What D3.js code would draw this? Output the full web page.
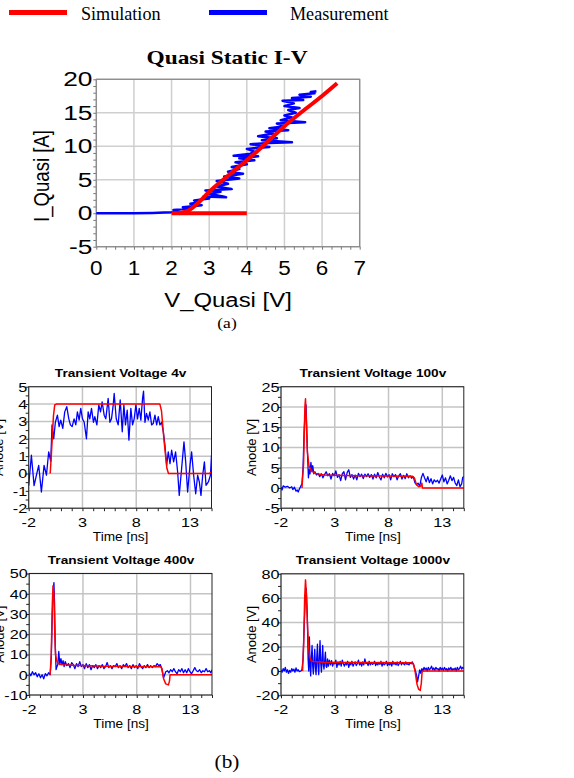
<!DOCTYPE html>
<html>
<head>
<meta charset="utf-8">
<script src="https://cdn.jsdelivr.net/npm/d3@7"></script>
<style>
body{margin:0;background:#fff;}
svg{display:block;}
</style>
</head>
<body>
<svg id="fig" width="574" height="778"></svg>
<script>
// ---------- data ----------
var legendNames = ["Simulation", "Measurement"];
var simColor = "#ff0000", measColor = "#0000ff";

// (a) quasi static I-V
var ivXTicks = [0, 1, 2, 3, 4, 5, 6, 7];
var ivYTicks = [-5, 0, 5, 10, 15, 20];
var ivSimFlat = [[2, 0], [4, 0]];
var ivSim = [[2.2, 0], [2.45, 0.4], [2.7, 1.5], [3, 3.2], [3.5, 5.6], [4, 7.9], [4.5, 10.4], [5, 13],
  [5.5, 15.3], [6, 17.5], [6.4, 19.4]];
var ivMeas = [[0, 0], [1.0, 0], [1.5, 0.05], [1.8, 0.1], [2.0, 0.15], [2.2, 0.3], [2.05, 0.5], [2.55, 0.7],
  [2.3, 0.9], [2.8, 1.2], [2.5, 1.4], [2.7, 1.6], [2.6, 1.9], [3.0, 2.2], [2.85, 2.5], [3.45, 2.4], [3.0, 2.9],
  [3.3, 3.2], [2.9, 3.4], [3.6, 3.6], [3.2, 4.0], [3.5, 4.4], [3.2, 4.8], [3.8, 5.2], [3.4, 5.5], [3.9, 5.9],
  [3.5, 6.2], [3.8, 6.6], [3.6, 6.9], [4.0, 7.3], [3.7, 7.6], [4.2, 7.9], [3.8, 8.2], [4.3, 8.5], [3.65, 8.6],
  [4.1, 8.9], [4.2, 9.2], [4.0, 9.6], [4.6, 9.9], [4.1, 10.3], [4.6, 10.5], [5.2, 10.6], [4.4, 10.9], [4.8, 11.2],
  [4.3, 11.5], [4.7, 11.9], [4.5, 12.2], [5.1, 12.4], [4.6, 12.7], [5.0, 13.0], [4.8, 13.4], [5.55, 13.6],
  [4.9, 13.9], [5.2, 14.3], [5.0, 14.6], [5.3, 15.0], [5.1, 15.4], [5.4, 15.7], [5.0, 16.0], [5.25, 16.4],
  [4.95, 16.8], [5.5, 16.9], [5.2, 17.2], [5.7, 17.4], [5.4, 17.7], [5.8, 17.9], [5.7, 18.1], [5.85, 18.2]];

// (b) transient voltages
var tTicks = [-2, 3, 8, 13];
var panelTitles = ["Transient Voltage 4v", "Transient Voltage 100v", "Transient Voltage 400v", "Transient Voltage 1000v"];
var y4v = [-2, -1, 0, 1, 2, 3, 4, 5];
var y100v = [-5, 0, 5, 10, 15, 20, 25];
var y400v = [-10, 0, 10, 20, 30, 40, 50];
var y1000v = [-20, 0, 20, 40, 60, 80];

var sim4v = [[0, 0], [0.1, 1], [0.3, 3.3], [0.42, 3.95], [0.6, 4], [10.2, 4], [10.35, 3.6], [10.6, 1.8],
  [10.85, 0.3], [11, 0], [14.8, 0], [15, 0.1]];
var meas4v = [[-2, -0.7], [-1.75, 1.05], [-1.5, -0.7], [-1.28, -0.1], [-1.07, 0.47], [-0.82, -1.07], [-0.57, 0.47],
  [-0.35, -0.1], [-0.14, 1.25], [0.05, 0.7], [0.17, 2.8], [0.33, 2.0], [0.48, 2.95], [0.67, 3.36], [0.83, 2.7],
  [0.98, 3.07], [1.17, 2.6], [1.35, 3.55], [1.54, 3.85], [1.73, 3.15], [1.88, 2.8], [2.04, 2.7], [2.22, 3.15],
  [2.38, 2.8], [2.53, 3.55], [2.69, 3.07], [2.84, 3.75], [3.0, 3.15], [3.16, 2.95], [3.37, 2.0], [3.53, 3.55],
  [3.68, 3.15], [3.84, 3.75], [4.02, 2.95], [4.15, 3.27], [4.34, 2.8], [4.52, 3.95], [4.68, 3.55], [4.83, 4.13],
  [5.02, 3.36], [5.17, 3.15], [5.39, 4.33], [5.55, 2.95], [5.70, 3.15], [5.86, 3.95], [5.95, 4.61], [6.14, 3.15],
  [6.32, 2.8], [6.51, 4.24], [6.70, 2.4], [6.85, 3.95], [7.0, 2.8], [7.16, 3.65], [7.32, 1.92], [7.5, 3.75],
  [7.66, 2.8], [7.81, 3.15], [7.97, 3.95], [8.12, 3.15], [8.28, 3.75], [8.43, 3.07], [8.59, 4.33], [8.68, 4.75],
  [8.81, 2.95], [8.96, 3.46], [9.12, 3.07], [9.27, 3.55], [9.43, 2.8], [9.58, 2.88], [9.74, 3.36], [9.9, 2.8],
  [10.05, 3.27], [10.2, 2.8], [10.36, 2.95], [10.52, 2.4], [10.67, 1.63], [10.83, 0.47], [10.98, 1.25],
  [11.14, 0.57], [11.29, 1.34], [11.48, 0.67], [11.66, 1.25], [11.85, 0.1], [12.0, -1.26], [12.22, 0.28],
  [12.44, 1.82], [12.6, 0.67], [12.78, -1.07], [13.0, 0.47], [13.15, 1.25], [13.34, -0.1], [13.53, -1.17],
  [13.71, -0.1], [13.87, -0.49], [14.02, -1.26], [14.18, -0.1], [14.34, 0.67], [14.49, -0.68], [14.71, -0.49],
  [14.9, -0.1], [15.0, 1.05]];

var sim100v = [[-0.05, 0], [0.1, 6], [0.22, 20], [0.28, 22], [0.35, 17], [0.45, 9], [0.6, 5.5], [0.8, 4.3],
  [1.2, 3.6], [2, 3.2], [5, 3], [10.2, 2.9], [10.4, 2.5], [10.6, 0.8], [10.8, 0.3], [11.0, 0.5], [11.1, 1.2],
  [11.15, 0], [15, 0]];
var meas100v = [[-2, 0.2], [-1.9, -0.5], [-1.8, 0.5], [-1.6, 0.2], [-1.4, 0.4], [-1.2, 0.0], [-1.0, 0.3],
  [-0.9, -0.4], [-0.75, 0.2], [-0.6, -0.8], [-0.5, -0.5], [-0.4, -1.0], [-0.3, -0.3], [-0.15, 0.5], [-0.05, 1.0],
  [0.05, 5], [0.15, 14], [0.25, 19], [0.33, 20.5], [0.4, 14], [0.47, 8], [0.55, 2.5], [0.62, 4.5], [0.7, 3.5],
  [0.78, 6.3], [0.88, 4.0], [0.95, 5.5], [1.05, 3.5], [1.15, 4.0], [1.3, 3.2], [1.45, 3.6], [1.6, 2.8],
  [1.75, 3.5], [1.9, 2.5], [2.05, 3.3], [2.2, 4.0], [2.35, 3.0], [2.5, 3.5], [2.65, 2.2], [2.8, 3.6], [2.95, 3.0],
  [3.1, 4.2], [3.25, 2.6], [3.4, 3.3], [3.55, 1.8], [3.7, 3.5], [3.85, 4.0], [4.0, 2.0], [4.15, 3.8], [4.3, 4.5],
  [4.45, 2.6], [4.6, 3.3], [4.75, 2.2], [4.9, 3.2], [5.05, 2.0], [5.2, 3.6], [5.35, 2.8], [5.5, 3.4], [5.65, 2.3],
  [5.8, 3.4], [5.95, 2.8], [6.1, 3.5], [6.25, 2.6], [6.4, 3.3], [6.55, 2.2], [6.7, 3.4], [6.85, 2.5], [7.0, 3.8],
  [7.15, 2.7], [7.3, 2.0], [7.45, 3.4], [7.6, 2.5], [7.75, 3.6], [7.9, 2.7], [8.05, 3.3], [8.2, 2.0], [8.35, 3.5],
  [8.5, 2.8], [8.65, 3.3], [8.8, 2.0], [8.95, 3.0], [9.1, 3.5], [9.25, 2.2], [9.4, 3.1], [9.55, 2.3], [9.7, 3.5],
  [9.85, 2.5], [10.0, 3.0], [10.15, 2.4], [10.3, 2.8], [10.45, 1.3], [10.6, 0.8], [10.75, 1.2], [10.9, 0.4],
  [11.05, 2.5], [11.2, 3.6], [11.35, 2.5], [11.5, 1.5], [11.65, 2.8], [11.8, 1.3], [11.95, 2.3], [12.1, 1.0],
  [12.25, 2.0], [12.4, 1.5], [12.55, 1.9], [12.7, 1.2], [12.85, 2.2], [13.0, 3.2], [13.15, 1.5], [13.3, 2.5],
  [13.45, 1.0], [13.6, 1.9], [13.75, 3.0], [13.9, 1.8], [14.05, 2.6], [14.2, 1.2], [14.35, 0.6], [14.5, 2.0],
  [14.65, 0.3], [14.8, 1.0], [14.9, 2.6], [15.0, 2.8]];

var sim400v = [[-0.05, 0], [0.05, 10], [0.15, 35], [0.22, 44], [0.3, 40], [0.38, 20], [0.45, 10], [0.55, 7],
  [0.7, 5.5], [1.0, 5], [2, 4.7], [5, 4.2], [10.2, 4], [10.35, 3], [10.5, -2], [10.7, -4.5], [10.95, -5],
  [11.05, -3], [11.1, 0], [15, 0]];
var meas400v = [[-2, 1], [-1.85, -0.5], [-1.7, 1.5], [-1.55, 0], [-1.4, 1], [-1.25, -1], [-1.1, 0.5],
  [-0.95, -1.5], [-0.8, 0], [-0.65, -2], [-0.5, 0.5], [-0.35, -0.5], [-0.2, 1], [-0.05, 0], [0.05, 8], [0.15, 30],
  [0.25, 43], [0.3, 45.5], [0.36, 35], [0.42, 15], [0.5, 2.5], [0.58, 4], [0.66, 5], [0.75, 11.5], [0.85, 5],
  [0.95, 8], [1.05, 5], [1.15, 7], [1.25, 4], [1.35, 6.5], [1.5, 4.5], [1.65, 5.5], [1.8, 3.5], [1.95, 6], [2.1, 5],
  [2.25, 3], [2.4, 5.5], [2.55, 4], [2.7, 6.5], [2.85, 4], [3.0, 5], [3.15, 3], [3.3, 5.5], [3.45, 3.5], [3.6, 5],
  [3.75, 2.5], [3.9, 4.5], [4.05, 3.5], [4.2, 5], [4.35, 3], [4.5, 4.5], [4.65, 3.5], [4.8, 5], [4.95, 3], [5.1, 4],
  [5.25, 6], [5.4, 3.5], [5.55, 4.5], [5.7, 3], [5.85, 4.5], [6.0, 4], [6.15, 5.5], [6.3, 3.5], [6.45, 4.5],
  [6.6, 3], [6.75, 5], [6.9, 4], [7.05, 5.5], [7.2, 3.5], [7.35, 4.5], [7.5, 3], [7.65, 5], [7.8, 3.5], [7.95, 4.5],
  [8.1, 3], [8.25, 5.5], [8.4, 4], [8.55, 3], [8.7, 4.5], [8.85, 3.5], [9.0, 5], [9.15, 3.5], [9.3, 4.5],
  [9.45, 3.5], [9.6, 4.5], [9.75, 4], [9.9, 5.5], [10.05, 4.5], [10.2, 5], [10.3, 3.5], [10.4, 1], [10.5, -1.5],
  [10.6, 0], [10.7, 1.5], [10.85, 2], [11.0, 1], [11.15, 2.5], [11.3, 1.5], [11.45, 3], [11.6, 1.5], [11.75, 0.5],
  [11.9, 2.5], [12.05, 1.5], [12.2, 3], [12.35, 1], [12.5, 2.5], [12.65, 1], [12.8, 3], [12.95, 1.5], [13.1, 0.5],
  [13.25, 2], [13.4, 3.5], [13.55, 2], [13.7, 1.5], [13.85, 2.5], [14.0, 1], [14.15, 2], [14.3, 1.5], [14.45, 3],
  [14.6, 1.5], [14.75, 2], [14.9, 1], [15.0, 2.5]];

var sim1000v = [[0, 0], [0.1, 20], [0.2, 60], [0.28, 75], [0.35, 65], [0.45, 40], [0.55, 22], [0.65, 12],
  [0.8, 8.5], [1.0, 7.8], [2, 7.3], [5, 7], [10.2, 6.7], [10.35, 5], [10.5, -2], [10.65, -11], [10.8, -15],
  [10.95, -16], [11.05, -10], [11.12, -1], [11.2, 0], [15, 0]];
var meas1000v = [[-2, 1], [-1.9, -1], [-1.8, 2], [-1.7, 0], [-1.6, 3], [-1.5, -1], [-1.4, 1], [-1.3, -2],
  [-1.2, 0.5], [-1.1, -1], [-1.0, 2], [-0.9, 0], [-0.8, 1.5], [-0.7, -1], [-0.6, 2.5], [-0.5, 0], [-0.4, 1],
  [-0.3, -0.5], [-0.15, 0], [-0.05, 1], [0.05, 10], [0.15, 35], [0.25, 58], [0.35, 68], [0.45, 45], [0.52, 10],
  [0.58, 0], [0.64, 28], [0.7, 5], [0.76, -4], [0.82, 10], [0.89, 21], [0.95, 4], [1.01, -2.5], [1.07, 8],
  [1.14, 18], [1.2, 3], [1.26, -3], [1.32, 10], [1.39, 22], [1.45, 4], [1.51, -3], [1.57, 12], [1.63, 25],
  [1.7, 6], [1.76, -1], [1.82, 9], [1.88, 21], [1.94, 5], [2.0, 1.6], [2.06, 8], [2.13, 15.6], [2.19, 4],
  [2.25, 3], [2.33, 10], [2.41, 4], [2.5, 9], [2.6, 5], [2.7, 8.5], [2.8, 4], [2.9, 7], [3.0, 6], [3.1, 9],
  [3.2, 3], [3.3, 7.5], [3.4, 5], [3.5, 8], [3.6, 4], [3.7, 9], [3.8, 6], [3.9, 4], [4.0, 7], [4.1, 5], [4.2, 8],
  [4.3, 3], [4.4, 6.5], [4.5, 5], [4.6, 8], [4.7, 4], [4.8, 6], [4.9, 7.5], [5.0, 4.5], [5.1, 6], [5.2, 9],
  [5.3, 5], [5.4, 7], [5.5, 4], [5.6, 7.5], [5.7, 5], [5.8, 10], [5.9, 6], [6.0, 7], [6.1, 4.5], [6.2, 8],
  [6.3, 5], [6.4, 7], [6.5, 5.5], [6.6, 6], [6.7, 8], [6.8, 4.5], [6.9, 6.5], [7.0, 5], [7.1, 7], [7.2, 5.5],
  [7.3, 8], [7.4, 4], [7.5, 7], [7.6, 5], [7.7, 6], [7.8, 8], [7.9, 4.5], [8.0, 6.5], [8.1, 5], [8.2, 7], [8.3, 4],
  [8.4, 8], [8.5, 5.5], [8.6, 6.5], [8.7, 5], [8.8, 7.5], [8.9, 4.5], [9.0, 6], [9.1, 8], [9.2, 5], [9.3, 7],
  [9.4, 6], [9.5, 5], [9.6, 7.5], [9.7, 5.5], [9.8, 6], [9.9, 5], [10.0, 7], [10.1, 6], [10.2, 7.5], [10.3, 6],
  [10.4, 3], [10.5, 0], [10.6, -3], [10.7, -9], [10.8, -4], [10.9, 1], [11.0, -2], [11.1, 2], [11.2, 0], [11.3, 3],
  [11.4, 1], [11.5, 2.5], [11.6, 0], [11.7, 3], [11.8, 1], [11.9, 2], [12.0, 4], [12.1, 1], [12.2, 2.5],
  [12.3, 0.5], [12.4, 3], [12.5, 1.5], [12.6, 2], [12.7, 0], [12.8, 3], [12.9, 1], [13.0, 2.5], [13.1, 0.5],
  [13.2, 3], [13.3, 1], [13.4, 2], [13.5, 0], [13.6, 2.5], [13.7, 1], [13.8, 3], [13.9, 0.5], [14.0, 2], [14.1, 1],
  [14.2, 2.5], [14.3, 0], [14.4, 3], [14.5, 1], [14.6, 2], [14.7, 4], [14.8, 1.5], [14.9, 3], [15.0, 2]];

// ---------- drawing ----------
var svg = d3.select("#fig");
var SANS = "'Liberation Sans', Arial, sans-serif";
var SERIF = "'Liberation Serif', 'Times New Roman', serif";

// text that is stretched sideways like the figure
function stext(sel, x, y, str, size, anchor, sx, fam, weight, rot) {
  var tr = "translate(" + x + "," + y + ") scale(" + sx + ",1)" + (rot ? " rotate(" + rot + ")" : "");
  return sel.append("text")
    .attr("transform", tr)
    .attr("text-anchor", anchor)
    .attr("font-family", fam)
    .attr("font-size", size)
    .attr("font-weight", weight || "normal")
    .attr("fill", "#000")
    .text(str);
}

// legend
[simColor, measColor].forEach(function(c, i){
  var x0 = i == 0 ? 9 : 209;
  svg.append("line").attr("x1", x0).attr("x2", x0 + 58).attr("y1", 12.5).attr("y2", 12.5)
    .attr("stroke", c).attr("stroke-width", 5);
  stext(svg, i == 0 ? 81 : 290, 20, legendNames[i], 18.5, "start", 0.98, SERIF);
});

// ----- (a) quasi static I-V -----
(function(){
  var L = 96.3, R = 359.7, T = 79.3, B = 246.7;
  var x = d3.scaleLinear().domain([0, 7]).range([L, R]);
  var y = d3.scaleLinear().domain([-5, 20]).range([B, T]);
  var g = svg.append("g");

  g.selectAll(".gx").data(ivXTicks).join("line")
    .attr("x1", d => x(d)).attr("x2", d => x(d)).attr("y1", T).attr("y2", B)
    .attr("stroke", "#cfcfcf").attr("stroke-width", 1.5);
  g.selectAll(".gy").data(ivYTicks).join("line")
    .attr("x1", L).attr("x2", R).attr("y1", d => y(d)).attr("y2", d => y(d))
    .attr("stroke", "#cfcfcf").attr("stroke-width", 1.5);

  // minor + major ticks, outside
  g.append("g").attr("transform", "translate(0," + B + ")")
    .call(d3.axisBottom(x).tickValues(d3.range(0, 7.01, 0.25)).tickSize(3).tickFormat(""))
    .call(a => a.select(".domain").remove());
  g.append("g").attr("transform", "translate(" + L + ",0)")
    .call(d3.axisLeft(y).tickValues(d3.range(-5, 20.01, 1)).tickSize(3).tickFormat(""))
    .call(a => a.select(".domain").remove());
  g.selectAll(".tick line").attr("stroke", "#777");

  g.append("rect").attr("x", L).attr("y", T).attr("width", R - L).attr("height", B - T)
    .attr("fill", "none").attr("stroke", "#888").attr("stroke-width", 1.2);

  ivXTicks.forEach(function(v){ stext(g, x(v), 275, v, 19.5, "middle", 1.15, SANS); });
  ivYTicks.forEach(function(v){ stext(g, 92.5, y(v) + 7, v, 19.5, "end", 1.35, SANS); });

  var line = d3.line().x(d => x(d[0])).y(d => y(d[1]));
  g.append("path").datum(ivMeas).attr("d", line).attr("fill", "none")
    .attr("stroke", measColor).attr("stroke-width", 2.5).attr("stroke-linejoin", "round");
  g.append("path").datum(ivSimFlat).attr("d", line).attr("fill", "none")
    .attr("stroke", simColor).attr("stroke-width", 4);
  g.append("path").datum(ivSim).attr("d", d3.line().curve(d3.curveMonotoneX).x(d => x(d[0])).y(d => y(d[1])))
    .attr("fill", "none").attr("stroke", simColor).attr("stroke-width", 4);

  stext(g, 227, 64, "Quasi Static I-V", 18, "middle", 1.3, SERIF, "bold");
  stext(g, 228, 306.5, "V_Quasi [V]", 19.6, "middle", 1.22, SANS);
  stext(g, 49, 176, "I_Quasi [A]", 18.6, "middle", 1.2, SANS, "normal", -90);
  stext(svg, 227, 328, "(a)", 14, "middle", 1.25, SERIF);
})();

// ----- (b) transient panels -----
function panel(p) {
  var L = p.left, R = p.left + 182.8, T = p.top, B = p.top + 121.5;
  var x = d3.scaleLinear().domain([-2, 15]).range([L, R]);
  var y = d3.scaleLinear().domain([p.yTicks[0], p.yTicks[p.yTicks.length - 1]]).range([B, T]);
  var g = svg.append("g");
  var step = p.yTicks[1] - p.yTicks[0];

  g.selectAll(".gx").data(tTicks).join("line")
    .attr("x1", d => x(d)).attr("x2", d => x(d)).attr("y1", T).attr("y2", B)
    .attr("stroke", "#c4c4c4").attr("stroke-width", 1.5);
  g.selectAll(".gy").data(p.yTicks).join("line")
    .attr("x1", L).attr("x2", R).attr("y1", d => y(d)).attr("y2", d => y(d))
    .attr("stroke", "#c4c4c4").attr("stroke-width", 1.5);

  g.append("g").attr("transform", "translate(0," + B + ")")
    .call(d3.axisBottom(x).tickValues(d3.range(-2, 15.01, 1)).tickSize(3).tickFormat(""))
    .call(a => a.select(".domain").remove());
  g.append("g").attr("transform", "translate(" + L + ",0)")
    .call(d3.axisLeft(y).tickValues(d3.range(p.yTicks[0], y.domain()[1] + 0.01, step / 2)).tickSize(3).tickFormat(""))
    .call(a => a.select(".domain").remove());
  g.selectAll(".tick line").attr("stroke", "#222");

  var clipId = "clip" + p.id;
  svg.append("clipPath").attr("id", clipId).append("rect")
    .attr("x", L).attr("y", T).attr("width", R - L).attr("height", B - T);

  var line = d3.line().x(d => x(d[0])).y(d => y(d[1]));
  g.append("path").datum(p.meas).attr("d", line).attr("clip-path", "url(#" + clipId + ")")
    .attr("fill", "none").attr("stroke", measColor).attr("stroke-width", 1.3).attr("stroke-linejoin", "round");
  g.append("path").datum(p.sim).attr("d", line).attr("clip-path", "url(#" + clipId + ")")
    .attr("fill", "none").attr("stroke", simColor).attr("stroke-width", 1.5).attr("stroke-linejoin", "round");

  g.append("rect").attr("x", L).attr("y", T).attr("width", R - L).attr("height", B - T)
    .attr("fill", "none").attr("stroke", "#222").attr("stroke-width", 1);

  tTicks.forEach(function(v){ stext(g, x(v), B + 18.5, v, 13.5, "middle", 1.2, SANS); });
  p.yTicks.forEach(function(v){ stext(g, L - 1.5, y(v) + 4.8, v, 13.5, "end", 1.2, SANS); });

  stext(g, (L + R) / 2 + 0.5, T - 9.5, p.title, 10.5, "middle", 1.3, SANS, "bold");
  stext(g, (L + R) / 2 + 0.5, B + 33, "Time [ns]", 13, "middle", 1.05, SANS);
  // the left column's axis titles sit partly past the page edge, as in the figure
  stext(g, L - 25.5, (T + B) / 2, "Anode [V]", 13, "middle", 1, SANS, "normal", -90);
}

panel({id: 1, left: 28.7, top: 386.7, yTicks: y4v, sim: sim4v, meas: meas4v, title: panelTitles[0]});
panel({id: 2, left: 281, top: 386.7, yTicks: y100v, sim: sim100v, meas: meas100v, title: panelTitles[1]});
panel({id: 3, left: 29.2, top: 573.5, yTicks: y400v, sim: sim400v, meas: meas400v, title: panelTitles[2]});
panel({id: 4, left: 281, top: 573.8, yTicks: y1000v, sim: sim1000v, meas: meas1000v, title: panelTitles[3]});

stext(svg, 227, 768, "(b)", 18.5, "middle", 1.15, SERIF);
</script>
</body>
</html>
